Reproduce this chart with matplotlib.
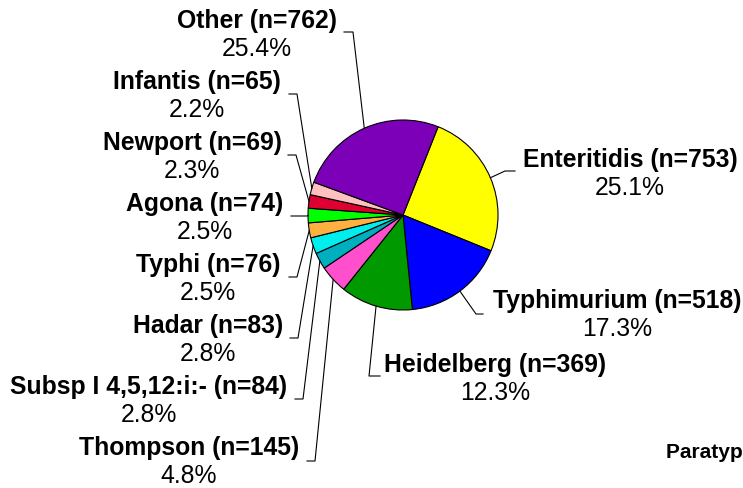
import numpy as np
import matplotlib.pyplot as plt

plt.rcParams['font.family'] = ['Liberation Sans', 'DejaVu Sans']

# serotype counts (clockwise from the top)
serotypes = ["Enteritidis", "Typhimurium", "Heidelberg", "Thompson", "Subsp I 4,5,12:i:-",
             "Hadar", "Typhi", "Agona", "Newport", "Infantis", "Other"]
counts = [753, 518, 369, 145, 84, 83, 76, 74, 69, 65, 762]
colors = ["#FFFF00", "#0000FF", "#009900", "#FF4FCC", "#00AFBF",
          "#00EEEE", "#FFB040", "#00FF00", "#DD0030", "#FFC0C0", "#7B00B8"]

# label layout in pixel coords (y from top): text center x, name baseline y
label_x = [630, 617, 495, 189, 149, 208, 208, 205, 192, 197, 257]
label_y = [167, 308, 372, 455, 394, 333, 272, 211, 150, 89, 28]
# leader elbow (x, y) and end x of the short horizontal tick
elbow = [(505, 172), (476, 315), (369, 377), (315, 462), (303, 400), (298, 339),
         (297, 278), (307, 217), (296, 156), (297, 95), (353, 33)]
tick_end = [515, 483, 380, 307, 295, 290, 289, 291, 288, 289, 344]

W, H = 743, 489
cx, cy, r = 403, 216, 95

fig = plt.figure(figsize=(W / 100, H / 100), dpi=100)
ax = fig.add_axes([0, 0, 1, 1])

wedges, _ = ax.pie(counts, colors=colors, startangle=68.3, counterclock=False,
                   center=(cx, H - cy), radius=r,
                   wedgeprops=dict(edgecolor="black", linewidth=0.8))
ax.set_xlim(0, W)
ax.set_ylim(0, H)
ax.set_aspect("equal")
ax.axis("off")

total = sum(counts)
for i, w in enumerate(wedges):
    mid = np.deg2rad((w.theta1 + w.theta2) / 2)
    ex = cx + r * np.cos(mid)
    ey = (H - cy) + r * np.sin(mid)
    bx, by = elbow[i]
    ax.plot([ex, bx, tick_end[i]], [ey, H - by, H - by], color="black", lw=0.8)
    ax.text(label_x[i], H - label_y[i], f"{serotypes[i]} (n={counts[i]})",
            ha="center", va="baseline", fontsize=17.8, fontweight="bold")
    ax.text(label_x[i], H - label_y[i] - 28, f"{100 * counts[i] / total:.1f}%",
            ha="center", va="baseline", fontsize=17.8)

# label of the next chart, cut off at the right edge as in the source
ax.text(666, H - 458, "Paratyphi B", ha="left", va="baseline",
        fontsize=15, fontweight="bold", clip_on=False)

fig.savefig("out.png", dpi=100)
